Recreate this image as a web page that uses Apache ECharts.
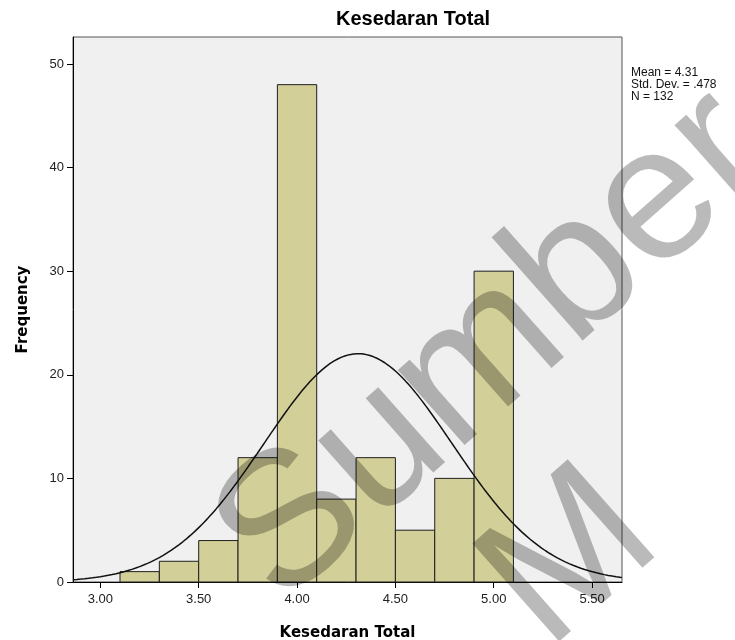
<!DOCTYPE html>
<html>
<head>
<meta charset="utf-8">
<script src="https://cdn.jsdelivr.net/npm/echarts@6/dist/echarts.min.js"></script>
<style>
  html, body { margin: 0; padding: 0; background: #ffffff; }
  #chart { width: 735px; height: 640px; }
</style>
</head>
<body>
<div id="chart"></div>
<script>
// Histogram bins (lower edge / upper edge) and frequencies
const binLower = [3.1, 3.3, 3.5, 3.7, 3.9, 4.1, 4.3, 4.5, 4.7, 4.9];
const binUpper = [3.3, 3.5, 3.7, 3.9, 4.1, 4.3, 4.5, 4.7, 4.9, 5.1];
const frequencies = [1, 2, 4, 12, 48, 8, 12, 5, 10, 30];

// Summary statistics printed beside the plot
const statMean = 4.31;
const statSd = 0.478;
const statN = 132;

// Axis tick values
const xTicks = [3.0, 3.5, 4.0, 4.5, 5.0, 5.5];
const xRange = [2.861, 5.652];
const yMax = 52.6;

const chartTitle = 'Kesedaran Total';
const xName = 'Kesedaran Total';
const yName = 'Frequency';
const watermarkWord = 'Sumber';
const watermarkLetter = 'M';

// Normal curve scaled to the histogram (N * bin width * density)
const binWidth = binUpper[0] - binLower[0];
const curve = [];
for (let i = 0; i <= 280; i++) {
  const x = xRange[0] + (xRange[1] - xRange[0]) * i / 280;
  const z = (x - statMean) / statSd;
  const y = statN * binWidth * Math.exp(-0.5 * z * z) / (statSd * Math.sqrt(2 * Math.PI));
  curve.push([x, y]);
}

const bars = binLower.map((lo, i) => [lo, binUpper[i], frequencies[i]]);

const chart = echarts.init(document.getElementById('chart'), null, { renderer: 'canvas' });

const wmAngle = 41.5 * Math.PI / 180;
const wmStyle = {
  font: '190px "Liberation Sans", Arial, sans-serif',
  fill: 'rgba(0,0,0,0.27)',
  align: 'center',
  verticalAlign: 'middle'
};

const option = {
  animation: false,
  backgroundColor: '#ffffff',
  grid: {
    left: 73, right: 113, top: 37, bottom: 58,
    containLabel: false,
    outerBoundsMode: 'none',
    show: true,
    backgroundColor: '#f0f0f0',
    borderColor: '#555555',
    borderWidth: 1
  },
  xAxis: {
    type: 'value',
    min: xRange[0],
    max: xRange[1],
    name: xName,
    nameLocation: 'middle',
    nameGap: 44,
    nameTextStyle: { fontFamily: 'DejaVu Sans', fontWeight: 'bold', fontSize: 15, color: '#000' },
    axisLine: { show: true, onZero: false, lineStyle: { color: '#000', width: 1 } },
    axisTick: { show: true, length: 6, customValues: xTicks, lineStyle: { color: '#000' } },
    axisLabel: {
      customValues: xTicks,
      formatter: v => v.toFixed(2),
      fontFamily: 'Liberation Sans', fontSize: 13, color: '#222', margin: 11
    },
    splitLine: { show: false }
  },
  yAxis: {
    type: 'value',
    min: 0,
    max: yMax,
    interval: 10,
    name: yName,
    nameLocation: 'middle',
    nameGap: 42,
    nameTextStyle: { fontFamily: 'DejaVu Sans', fontWeight: 'bold', fontSize: 15, color: '#000' },
    axisLine: { show: true, lineStyle: { color: '#000', width: 1 } },
    axisTick: { show: true, length: 6, lineStyle: { color: '#000' } },
    axisLabel: {
      fontFamily: 'Liberation Sans', fontSize: 13, color: '#222', margin: 9,
      showMaxLabel: false
    },
    splitLine: { show: false }
  },
  series: [
    {
      type: 'custom',
      data: bars,
      encode: { x: [0, 1], y: 2 },
      z: 2,
      renderItem: function (params, api) {
        const p0 = api.coord([api.value(0), api.value(2)]);
        const p1 = api.coord([api.value(1), 0]);
        return {
          type: 'rect',
          shape: { x: p0[0], y: p0[1], width: p1[0] - p0[0], height: p1[1] - p0[1] },
          style: { fill: '#d3cf99', stroke: '#1e1e1e', lineWidth: 1 }
        };
      }
    },
    {
      type: 'line',
      data: curve,
      showSymbol: false,
      smooth: false,
      z: 3,
      lineStyle: { color: '#111', width: 1.5 }
    }
  ],
  graphic: [
    {
      type: 'text',
      x: 413, y: 19,
      style: {
        text: chartTitle,
        font: 'bold 20px "Liberation Sans", Arial, sans-serif',
        fill: '#000',
        align: 'center',
        verticalAlign: 'middle'
      }
    },
    {
      type: 'text',
      left: 631, top: 67,
      style: {
        text: 'Mean = ' + statMean.toFixed(2) + '\nStd. Dev. = ' + statSd.toFixed(3).replace(/^0/, '') + '\nN = ' + statN,
        font: '12px "Liberation Sans", Arial, sans-serif',
        lineHeight: 12,
        fill: '#111'
      }
    },
    {
      type: 'text',
      x: 495, y: 348,
      rotation: wmAngle,
      z: 100,
      style: Object.assign({ text: watermarkWord }, wmStyle)
    },
    {
      type: 'text',
      x: 572, y: 560,
      rotation: wmAngle,
      z: 100,
      style: Object.assign({ text: watermarkLetter }, wmStyle)
    }
  ]
};

chart.setOption(option);
</script>
</body>
</html>
